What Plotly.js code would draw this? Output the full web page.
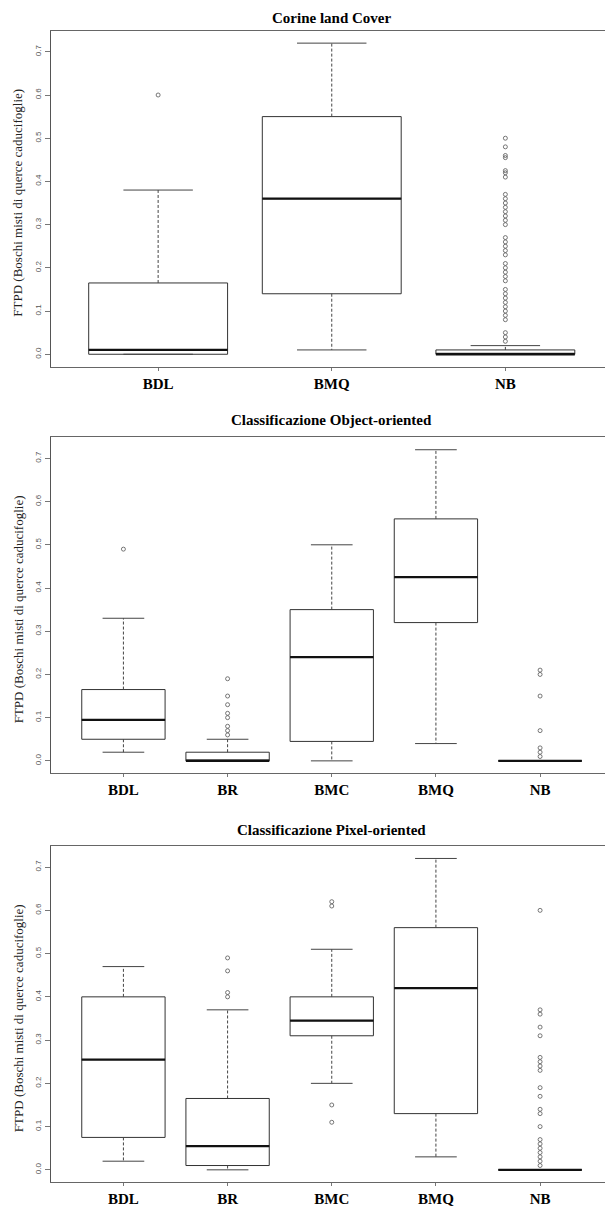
<!DOCTYPE html>
<html><head><meta charset="utf-8">
<script src="https://cdn.plot.ly/plotly-3.0.1.min.js"></script>
<style>html,body{margin:0;padding:0;overflow:hidden;background:#fff}#chart{width:614px;height:1207px}</style>
</head><body><div id="chart"></div>
<script>
// ---------- texts ----------
const panelTitles = ['Corine land Cover', 'Classificazione Object-oriented', 'Classificazione Pixel-oriented'];
const yTitle = 'FTPD (Boschi misti di querce caducifoglie)';
const yTickVals = [0, 0.1, 0.2, 0.3, 0.4, 0.5, 0.6, 0.7];
const yTickText = ['0.0', '0.1', '0.2', '0.3', '0.4', '0.5', '0.6', '0.7'];

// ---------- panel 1: Corine land Cover ----------
const cats1 = ['BDL', 'BMQ', 'NB'];
const lower1 = [0.00, 0.01, 0.00];
const q1_1   = [0.00, 0.14, 0.00];
const med1   = [0.01, 0.36, 0.00];
const q3_1   = [0.165, 0.55, 0.01];
const upper1 = [0.38, 0.72, 0.02];
const out1_BDL = [0.60];
const out1_BMQ = [];
const out1_NB = [0.50, 0.48, 0.46, 0.455, 0.425, 0.42, 0.41, 0.37, 0.36, 0.35, 0.34, 0.33, 0.32, 0.31, 0.30,
                 0.27, 0.26, 0.25, 0.24, 0.23, 0.21, 0.20, 0.19, 0.18, 0.17, 0.15, 0.14, 0.13, 0.12, 0.11,
                 0.10, 0.09, 0.08, 0.05, 0.04, 0.03];

// ---------- panel 2: Classificazione Object-oriented ----------
const cats2 = ['BDL', 'BR', 'BMC', 'BMQ', 'NB'];
const lower2 = [0.02, 0.00, 0.00, 0.04, 0.00];
const q1_2   = [0.05, 0.00, 0.045, 0.32, 0.00];
const med2   = [0.095, 0.00, 0.24, 0.425, 0.00];
const q3_2   = [0.165, 0.02, 0.35, 0.56, 0.00];
const upper2 = [0.33, 0.05, 0.50, 0.72, 0.00];
const out2_BDL = [0.49];
const out2_BR = [0.19, 0.15, 0.13, 0.11, 0.10, 0.08, 0.07, 0.06];
const out2_BMC = [];
const out2_BMQ = [];
const out2_NB = [0.21, 0.20, 0.15, 0.07, 0.03, 0.02, 0.01];

// ---------- panel 3: Classificazione Pixel-oriented ----------
const cats3 = ['BDL', 'BR', 'BMC', 'BMQ', 'NB'];
const lower3 = [0.02, 0.00, 0.20, 0.03, 0.00];
const q1_3   = [0.075, 0.01, 0.31, 0.13, 0.00];
const med3   = [0.255, 0.055, 0.345, 0.42, 0.00];
const q3_3   = [0.40, 0.165, 0.40, 0.56, 0.00];
const upper3 = [0.47, 0.37, 0.51, 0.72, 0.00];
const out3_BDL = [];
const out3_BR = [0.49, 0.46, 0.41, 0.40];
const out3_BMC = [0.62, 0.61, 0.15, 0.11];
const out3_BMQ = [];
const out3_NB = [0.60, 0.37, 0.36, 0.33, 0.31, 0.26, 0.25, 0.24, 0.23, 0.19, 0.17, 0.14, 0.13, 0.10,
                 0.07, 0.06, 0.05, 0.04, 0.03, 0.02, 0.01];

// ---------- build ----------
const LINE = '#333';
const SERIF = '"Liberation Serif", "Times New Roman", serif';
const SANS = '"Liberation Sans", Arial, sans-serif';

function panelTraces(k, cats, lower, q1, med, q3, upper, outs) {
  const xa = k === 1 ? 'x' : 'x' + k;
  const ya = k === 1 ? 'y' : 'y' + k;
  const pos = cats.map((c, i) => i + 1);
  const traces = [];
  traces.push({
    type: 'box', x: pos, q1: q1, median: med, q3: q3, lowerfence: q1, upperfence: q3,
    width: 0.8, whiskerwidth: 0, boxpoints: false, fillcolor: '#ffffff',
    line: {color: LINE, width: 1}, xaxis: xa, yaxis: ya, showlegend: false, hoverinfo: 'skip'
  });
  const wx = [], wy = [], cx = [], cy = [], mx = [], my = [];
  pos.forEach((p, i) => {
    wx.push(p, p, null, p, p, null);
    wy.push(q3[i], upper[i], null, q1[i], lower[i], null);
    cx.push(p - 0.2, p + 0.2, null, p - 0.2, p + 0.2, null);
    cy.push(upper[i], upper[i], null, lower[i], lower[i], null);
    mx.push(p - 0.4, p + 0.4, null);
    my.push(med[i], med[i], null);
  });
  traces.push({type: 'scatter', mode: 'lines', x: wx, y: wy, line: {color: '#444', width: 1, dash: '3px,2px'},
               xaxis: xa, yaxis: ya, showlegend: false, hoverinfo: 'skip', connectgaps: false});
  traces.push({type: 'scatter', mode: 'lines', x: cx, y: cy, line: {color: '#444', width: 1},
               xaxis: xa, yaxis: ya, showlegend: false, hoverinfo: 'skip', connectgaps: false});
  traces.push({type: 'scatter', mode: 'lines', x: mx, y: my, line: {color: '#111', width: 2.3},
               xaxis: xa, yaxis: ya, showlegend: false, hoverinfo: 'skip', connectgaps: false});
  const ox = [], oy = [];
  outs.forEach((arr, i) => arr.forEach(v => { ox.push(pos[i]); oy.push(v); }));
  traces.push({type: 'scatter', mode: 'markers', x: ox, y: oy,
               marker: {symbol: 'circle-open', size: 4, color: '#555', line: {width: 0.8, color: '#555'}},
               xaxis: xa, yaxis: ya, showlegend: false, hoverinfo: 'skip'});
  return traces;
}

const data = [].concat(
  panelTraces(1, cats1, lower1, q1_1, med1, q3_1, upper1, [out1_BDL, out1_BMQ, out1_NB]),
  panelTraces(2, cats2, lower2, q1_2, med2, q3_2, upper2, [out2_BDL, out2_BR, out2_BMC, out2_BMQ, out2_NB]),
  panelTraces(3, cats3, lower3, q1_3, med3, q3_3, upper3, [out3_BDL, out3_BR, out3_BMC, out3_BMQ, out3_NB])
);

const W = 614, H = 1207;
const xLeft = 50.5, xRight = 613;
const xDom = [xLeft / W, xRight / W];
const panels = [{top: 30.7, bottom: 366.7, cats: cats1},
                {top: 437.3, bottom: 773.3, cats: cats2},
                {top: 846, bottom: 1182.3, cats: cats3}];
const titleY = [18, 420, 830];

const layout = {
  width: W, height: H, margin: {l: 0, r: 0, t: 0, b: 0},
  paper_bgcolor: '#fff', plot_bgcolor: '#fff', showlegend: false,
  annotations: []
};
panels.forEach((p, i) => {
  const k = i + 1;
  const n = p.cats.length;
  const pad = 0.04 * n;
  const xa = {
    domain: xDom, range: [0.5 - pad, n + 0.5 + pad], anchor: k === 1 ? 'y' : 'y' + k,
    tickvals: p.cats.map((c, j) => j + 1), ticktext: p.cats,
    ticks: 'outside', ticklen: 3, tickcolor: '#777', tickwidth: 1,
    showline: true, mirror: true, linecolor: '#666', linewidth: 1,
    showgrid: false, zeroline: false, fixedrange: true,
    tickfont: {family: SERIF, size: 15, color: '#000', weight: 'bold'}, ticklabelstandoff: 0
  };
  const ya = {
    domain: [(H - p.bottom) / H, (H - p.top) / H], range: [-0.0288, 0.7488],
    anchor: k === 1 ? 'x' : 'x' + k,
    tickvals: yTickVals, ticktext: yTickText, tickangle: -90,
    ticks: 'outside', ticklen: 5, tickcolor: '#777', tickwidth: 1,
    showline: true, mirror: true, linecolor: '#555', linewidth: 1,
    showgrid: false, zeroline: false, fixedrange: true,
    tickfont: {family: SANS, size: 8, color: '#555'}
  };
  layout[k === 1 ? 'xaxis' : 'xaxis' + k] = xa;
  layout[k === 1 ? 'yaxis' : 'yaxis' + k] = ya;
  layout.annotations.push({
    text: '<b>' + panelTitles[i] + '</b>', xref: 'paper', yref: 'paper',
    x: (xLeft + xRight) / 2 / W, y: (H - titleY[i]) / H, xanchor: 'center', yanchor: 'middle',
    showarrow: false, font: {family: SERIF, size: 15, color: '#000'}
  });
  layout.annotations.push({
    text: yTitle, xref: 'paper', yref: 'paper', textangle: -90,
    x: 18 / W, y: (H - (p.top + p.bottom) / 2 - 4) / H, xanchor: 'center', yanchor: 'middle',
    showarrow: false, font: {family: SERIF, size: 13, color: '#222'}
  });
});

Plotly.newPlot('chart', data, layout, {displayModeBar: false, staticPlot: true});
</script>
</body></html>
